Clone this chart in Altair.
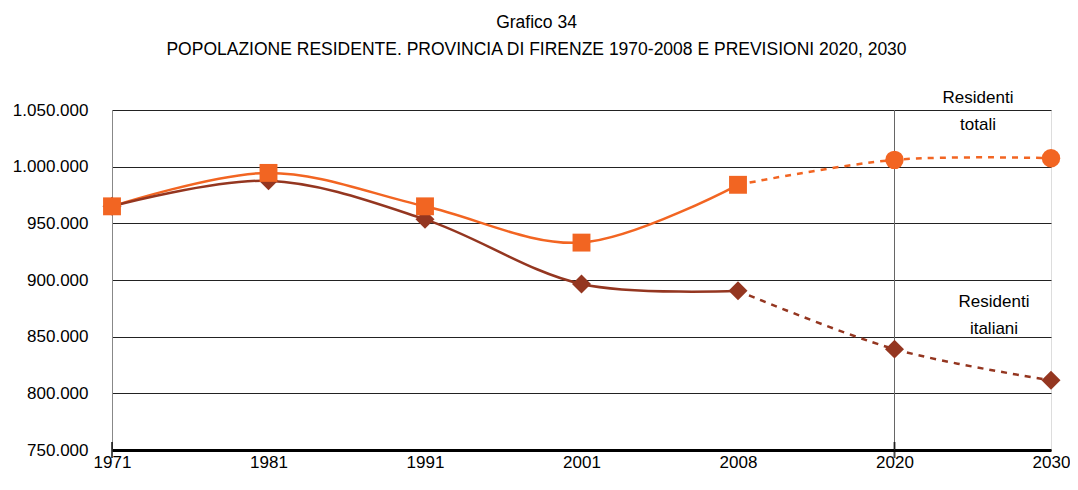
import altair as alt
import pandas as pd

years = ["1971", "1981", "1991", "2001", "2008", "2020", "2030"]
totali = [965000, 994500, 965000, 933000, 984000, 1006000, 1007500]
italiani = [965000, 987500, 953500, 896500, 890500, 839000, 811500]
n_actual = 5  # 1971..2008 observed, 2020/2030 forecast

tick_years = ["1971", "2020"]
vline_years = ["2020"]

ann_text = ["Residenti\ntotali", "Residenti\nitaliani"]
ann_x = ["2030", "2030"]
ann_y = [1068000, 887500]
ann_dx = [-73, -57]

FONT = "Liberation Sans, Arial"
FS = 17
C_TOT = "#F26522"
C_ITA = "#943620"

rows = []
for i, y in enumerate(years):
    rows.append({"year": y, "serie": "totali", "value": totali[i], "idx": i})
    rows.append({"year": y, "serie": "italiani", "value": italiani[i], "idx": i})
df = pd.DataFrame(rows)
df_actual = df[df.idx <= n_actual - 1]
df_fore = df[df.idx >= n_actual - 1]

X = lambda: alt.X("year:O", sort=years)
xenc = alt.X("year:O", sort=years, scale=alt.Scale(type="point", padding=0, domain=years),
             axis=alt.Axis(title=None, labelAngle=0, ticks=False, labelPadding=4,
                           labelFont=FONT, labelFontSize=FS, labelColor="#000",
                           domainColor="#000", domainWidth=3, grid=False))
yscale = alt.Scale(domain=[750000, 1050000], nice=False, zero=False)
Y = lambda: alt.Y("value:Q", scale=yscale)
yenc = alt.Y("value:Q", scale=yscale,
             axis=alt.Axis(title=None, values=list(range(750000, 1050001, 50000)),
                           labelExpr="replace(format(datum.value, ',d'), regexp(',', 'g'), '.')",
                           labelFont=FONT, labelFontSize=FS, labelColor="#000",
                           ticks=False, labelPadding=24, domainColor="#888", domainWidth=1,
                           grid=True, gridColor="#222", gridWidth=1))

color = alt.Color("serie:N", scale=alt.Scale(domain=["totali", "italiani"], range=[C_TOT, C_ITA]), legend=None)

vline = alt.Chart(pd.DataFrame({"year": vline_years})).mark_rule(color="#666", strokeWidth=1).encode(x=X())

ticks = alt.Chart(pd.DataFrame({"year": tick_years, "value": [750000] * len(tick_years)})).mark_tick(
    color="#000", size=16, thickness=2, orient="vertical").encode(x=X(), y=Y())

line_a = alt.Chart(df_actual).mark_line(interpolate="catmull-rom", strokeWidth=2.5).encode(
    x=xenc, y=yenc, color=color, detail="serie:N")
line_f = alt.Chart(df_fore).mark_line(interpolate="catmull-rom", strokeWidth=2.5, strokeDash=[6, 6]).encode(
    x=X(), y=Y(), color=color, detail="serie:N")

pts_ita = alt.Chart(df[df.serie == "italiani"]).mark_point(shape="diamond", filled=True, size=360, opacity=1).encode(
    x=X(), y=Y(), color=color)
pts_tot_a = alt.Chart(df_actual[df_actual.serie == "totali"]).mark_point(shape="square", filled=True, size=320, opacity=1).encode(
    x=X(), y=Y(), color=color)
pts_tot_f = alt.Chart(df[(df.serie == "totali") & (df.idx >= n_actual)]).mark_point(shape="circle", filled=True, size=340, opacity=1).encode(
    x=X(), y=Y(), color=color)

ann_layers = []
for i in range(len(ann_text)):
    ann_layers.append(
        alt.Chart(pd.DataFrame({"t": [ann_text[i]], "year": [ann_x[i]], "value": [ann_y[i]]})).mark_text(
            font=FONT, fontSize=FS, color="#000", align="center", baseline="top",
            lineBreak="\n", lineHeight=27, dx=ann_dx[i]).encode(x=X(), y=Y(), text="t:N"))

chart = alt.layer(line_a, vline, ticks, line_f, pts_ita, pts_tot_a, pts_tot_f, *ann_layers).properties(
    width=939, height=340,
    title=alt.TitleParams(text=["Grafico 34", "POPOLAZIONE RESIDENTE. PROVINCIA DI FIRENZE 1970-2008 E PREVISIONI 2020, 2030"],
                          font=FONT, fontSize=17.5, fontWeight="normal", color="#000", anchor="middle",
                          lineHeight=27, offset=30, dx=-45),
    autosize=alt.AutoSizeParams(type="none"),
    padding={"left": 104, "top": 102, "right": 19, "bottom": 32},
).configure_view(stroke=None).configure(background="white")

chart.save("out.html", embed_options={"renderer": "svg", "actions": False})
